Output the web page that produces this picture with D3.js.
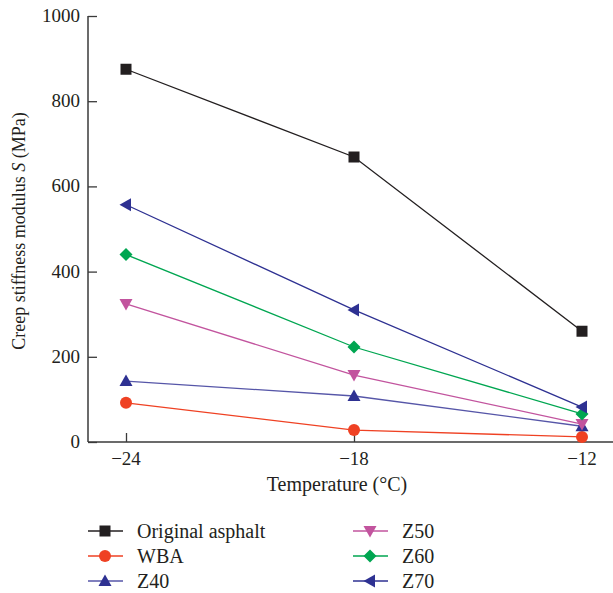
<!DOCTYPE html>
<html>
<head>
<meta charset="utf-8">
<script src="https://cdn.jsdelivr.net/npm/d3@7"></script>
<style>
  body { margin: 0; background: #fff; }
  text { font-family: "Liberation Serif", "DejaVu Serif", serif; fill: #231f20; }
</style>
</head>
<body>
<div id="container"></div>
<script>
// temperatures on the x axis
const temps = [-24, -18, -12];
const xTicks = [-24, -18, -12];
const yTicks = [0, 200, 400, 600, 800, 1000];

// creep stiffness values (MPa)
const original = [875, 669, 260];
const wba = [92, 28, 12];
const z40 = [143, 108, 37];
const z50 = [324, 157, 42];
const z60 = [440, 223, 66];
const z70 = [557, 310, 82];

const seriesNames = ["Original asphalt", "WBA", "Z40", "Z50", "Z60", "Z70"];
const seriesValues = [original, wba, z40, z50, z60, z70];
const seriesColors = ["#231f20", "#ef4123", "#2e3192", "#c2549e", "#00a651", "#2e3192"];
const lineColors = ["#231f20", "#ef4123", "#5656a8", "#c2549e", "#00a651", "#2e3192"];
const symbols = ["square", "circle", "up", "down", "diamond", "left"];

const width = 613, height = 593;
const svg = d3.create("svg").attr("width", width).attr("height", height);
container.append(svg.node());

const m = { left: 88, top: 16, bottom: 442, right: 620 };

const x = d3.scaleLinear().domain([-25, -11]).range([m.left, m.right]);
const y = d3.scaleLinear().domain([0, 1000]).range([m.bottom, m.top]);

// draw a marker shape centered on 0,0
const marker = function (g, kind, color) {
  if (kind === "square") {
    g.append("rect").attr("x", -5.5).attr("y", -5.5).attr("width", 11).attr("height", 11).attr("fill", color);
  } else if (kind === "circle") {
    g.append("circle").attr("r", 6).attr("fill", color);
  } else {
    const pts = {
      up: [[0, -6.5], [6.5, 5], [-6.5, 5]],
      down: [[0, 6.5], [6.5, -5], [-6.5, -5]],
      left: [[-6.5, 0], [5, -6.5], [5, 6.5]],
      diamond: [[0, -6.5], [6.5, 0], [0, 6.5], [-6.5, 0]]
    }[kind];
    g.append("polygon").attr("points", pts.map(p => p.join(",")).join(" ")).attr("fill", color);
  }
}

// axes, ticks point inward
const axisColor = "#3a3a3a";
const yAxis = svg.append("g").attr("transform", `translate(${m.left},0)`)
  .call(d3.axisRight(y).tickValues(yTicks).tickSize(9).tickFormat(""));
const xAxis = svg.append("g").attr("transform", `translate(0,${m.bottom})`)
  .call(d3.axisTop(x).tickValues(xTicks).tickSize(9).tickFormat(""));
[xAxis, yAxis].forEach(a => {
  a.select(".domain").attr("stroke", axisColor).attr("stroke-width", 1.5);
  a.selectAll(".tick line").attr("stroke", axisColor).attr("stroke-width", 1.3);
});
// no end caps on the domain path
yAxis.select(".domain").attr("d", `M0,${m.top}V${m.bottom}`);
xAxis.select(".domain").attr("d", `M${m.left},0H${m.right}`);

svg.selectAll(".ylab").data(yTicks).join("text")
  .attr("class", "ylab")
  .attr("x", m.left - 8).attr("y", d => y(d) + 6)
  .attr("text-anchor", "end").attr("font-size", 19)
  .text(d => d);

svg.selectAll(".xlab").data(xTicks).join("text")
  .attr("class", "xlab")
  .attr("x", d => x(d)).attr("y", m.bottom + 23)
  .attr("text-anchor", "middle").attr("font-size", 19)
  .text(d => "\u2212" + Math.abs(d));

svg.append("text")
  .attr("x", 337).attr("y", 491)
  .attr("text-anchor", "middle").attr("font-size", 20)
  .text("Temperature (\u00b0C)");

const yt = svg.append("text")
  .attr("transform", `translate(25,231) rotate(-90)`)
  .attr("text-anchor", "middle").attr("font-size", 18);
yt.append("tspan").text("Creep stiffness modulus ");
yt.append("tspan").attr("font-style", "italic").text("S");
yt.append("tspan").text(" (MPa)");

// series lines and markers
const line = d3.line().x((d, i) => x(temps[i])).y(d => y(d));
seriesValues.forEach((vals, k) => {
  svg.append("path").datum(vals)
    .attr("d", line).attr("fill", "none")
    .attr("stroke", lineColors[k]).attr("stroke-width", 1.3);
});
seriesValues.forEach((vals, k) => {
  vals.forEach((v, i) => {
    const g = svg.append("g").attr("transform", `translate(${x(temps[i])},${y(v)})`);
    marker(g, symbols[k], seriesColors[k]);
  });
});

// legend, two columns of three
seriesNames.forEach((name, k) => {
  const col = Math.floor(k / 3), row = k % 3;
  const lx = 88 + col * 265, ly = 531 + row * 25;
  const g = svg.append("g").attr("transform", `translate(${lx},${ly})`);
  g.append("line").attr("x1", 0).attr("x2", 35).attr("y1", 0).attr("y2", 0)
    .attr("stroke", lineColors[k]).attr("stroke-width", 1.3);
  const mg = g.append("g").attr("transform", "translate(17,0)");
  marker(mg, symbols[k], seriesColors[k]);
  g.append("text").attr("x", 49).attr("y", 6.5).attr("font-size", 20).text(name);
});
</script>
</body>
</html>
